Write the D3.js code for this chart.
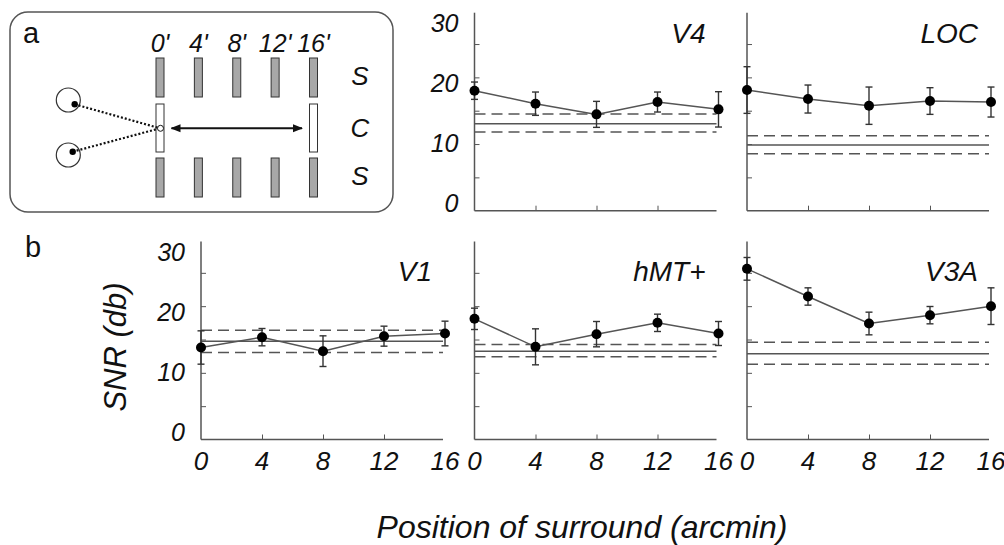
<!DOCTYPE html>
<html>
<head>
<meta charset="utf-8">
<script src="https://cdn.jsdelivr.net/npm/d3@7"></script>
<style>
  body { margin: 0; background: #fff; }
  svg { display: block; font-family: "Liberation Sans", Arial, sans-serif; }
  text { fill: #111; }
</style>
</head>
<body>
<svg id="chart" width="1004" height="545"></svg>
<script>
// x positions of the surround (arcmin)
const positions = [0, 4, 8, 12, 16];
const yTicks = [0, 10, 20, 30];
const regions = ["V4", "LOC", "V1", "hMT+", "V3A"];

// mean SNR per surround position
const snrV4 = [18.0, 16.05, 14.45, 16.3, 15.2];
const snrLOC = [18.1, 16.75, 15.75, 16.45, 16.3];
const snrV1 = [13.8, 15.35, 13.25, 15.5, 15.9];
const snrMT = [18.1, 13.9, 15.8, 17.5, 15.9];
const snrV3A = [25.6, 21.45, 17.4, 18.65, 20.0];

// error bar half-widths
const errV4 = [1.3, 1.75, 1.95, 1.5, 2.65];
const errLOC = [3.5, 2.1, 2.8, 2.0, 2.25];
const errV1 = [2.5, 1.3, 2.3, 1.5, 1.85];
const errMT = [1.6, 2.7, 1.9, 1.3, 1.8];
const errV3A = [1.7, 1.3, 1.7, 1.3, 2.75];

// center-only baseline: [mean, lower, upper]
const baseV4 = [13.05, 11.8, 14.5];
const baseLOC = [9.85, 8.55, 11.25];
const baseV1 = [14.75, 13.05, 16.4];
const baseMT = [13.25, 12.4, 14.25];
const baseV3A = [12.85, 11.3, 14.6];

const svg = d3.select("#chart");
const grey = "#555";

// layout: three columns, two rows
const colX = [201, 474.5, 747];
const rowY = [210.7, 439.5];
const panelW = 244, panelH = 200;

const panels = [
  { name: regions[0], col: 1, row: 0, snr: snrV4, err: errV4, base: baseV4 },
  { name: regions[1], col: 2, row: 0, snr: snrLOC, err: errLOC, base: baseLOC },
  { name: regions[2], col: 0, row: 1, snr: snrV1, err: errV1, base: baseV1 },
  { name: regions[3], col: 1, row: 1, snr: snrMT, err: errMT, base: baseMT },
  { name: regions[4], col: 2, row: 1, snr: snrV3A, err: errV3A, base: baseV3A }
];

panels.forEach(function(p) {
  var x = d3.scaleLinear().domain([0, 16]).range([colX[p.col], colX[p.col] + panelW]);
  var y = d3.scaleLinear().domain([0, 30]).range([rowY[p.row], rowY[p.row] - panelH]);
  var g = svg.append("g").attr("class", "panel");

  // y axis, ticks pointing inward
  var ya = g.append("g")
    .attr("transform", "translate(" + x(0) + ",0)")
    .call(d3.axisRight(y).tickValues(d3.range(5, 30, 5)).tickSize(5).tickSizeOuter(0).tickFormat(""));
  ya.select(".domain").attr("d", "M0," + y(0) + "V" + (y(30) + 2));
  ya.selectAll("line").attr("stroke", grey);
  ya.select(".domain").attr("stroke", grey).attr("stroke-width", 1.5);

  // x axis, ticks pointing up
  var xa = g.append("g")
    .attr("transform", "translate(0," + y(0) + ")")
    .call(d3.axisTop(x).tickValues(positions.slice(1, 4)).tickSize(5).tickSizeOuter(0).tickFormat(""));
  xa.select(".domain").attr("d", "M" + x(0) + ",0H" + (x(16) - 2));
  xa.selectAll("line").attr("stroke", grey);
  xa.select(".domain").attr("stroke", grey).attr("stroke-width", 1.5);

  // baseline lines
  g.append("line")
    .attr("x1", x(0)).attr("x2", x(16) - 2)
    .attr("y1", y(p.base[0])).attr("y2", y(p.base[0]))
    .attr("stroke", grey).attr("stroke-width", 1.5);
  g.selectAll(".dash")
    .data(p.base.slice(1))
    .join("line")
    .attr("class", "dash")
    .attr("x1", x(0)).attr("x2", x(16) - 2)
    .attr("y1", function(d) { return y(d); })
    .attr("y2", function(d) { return y(d); })
    .attr("stroke", grey).attr("stroke-width", 1.5)
    .attr("stroke-dasharray", "11,6");

  // data line
  var pts = positions.map(function(pos, i) { return [pos, p.snr[i], p.err[i]]; });
  g.append("path")
    .datum(pts)
    .attr("fill", "none")
    .attr("stroke", grey)
    .attr("stroke-width", 1.5)
    .attr("d", d3.line().x(function(d) { return x(d[0]); }).y(function(d) { return y(d[1]); }));

  // error bars
  var eb = g.selectAll(".err").data(pts).join("g").attr("class", "err")
    .attr("stroke", "#333").attr("stroke-width", 1.4);
  eb.append("line")
    .attr("x1", function(d) { return x(d[0]); }).attr("x2", function(d) { return x(d[0]); })
    .attr("y1", function(d) { return y(d[1] - d[2]); })
    .attr("y2", function(d) { return y(d[1] + d[2]); });
  [-1, 1].forEach(function(s) {
    eb.append("line")
      .attr("x1", function(d) { return x(d[0]) - 3.5; })
      .attr("x2", function(d) { return x(d[0]) + 3.5; })
      .attr("y1", function(d) { return y(d[1] + s * d[2]); })
      .attr("y2", function(d) { return y(d[1] + s * d[2]); });
  });

  g.selectAll(".dot").data(pts).join("circle")
    .attr("class", "dot")
    .attr("cx", function(d) { return x(d[0]); })
    .attr("cy", function(d) { return y(d[1]); })
    .attr("r", 5)
    .attr("fill", "#000");

  // region name
  g.append("text")
    .attr("x", x(16) - 13)
    .attr("y", p.row == 0 ? y(30) + 32 : y(30) + 41)
    .attr("text-anchor", "end")
    .attr("font-size", 28)
    .attr("font-style", "italic")
    .text(p.name);

  // y tick labels on first panel of each row
  if ((p.row == 0 && p.col == 1) || (p.row == 1 && p.col == 0)) {
    var ly = d3.scaleLinear().domain([0, 30]).range([y(0) - 8, y(30) + 12]);
    g.selectAll(".ylab").data(yTicks).join("text")
      .attr("class", "ylab")
      .attr("x", x(0) - 16)
      .attr("y", function(d) { return ly(d); })
      .attr("dy", "0.36em")
      .attr("text-anchor", "end")
      .attr("font-size", 25)
      .attr("font-style", "italic")
      .text(function(d) { return d; });
  }

  // x tick labels on bottom row
  if (p.row == 1) {
    g.selectAll(".xlab").data(positions).join("text")
      .attr("class", "xlab")
      .attr("x", function(d) { return x(d); })
      .attr("y", y(0) + 30)
      .attr("text-anchor", "middle")
      .attr("font-size", 26)
      .attr("font-style", "italic")
      .text(function(d) { return d; });
  }
});

// axis titles
svg.append("text")
  .attr("transform", "translate(126,347) rotate(-90)")
  .attr("text-anchor", "middle")
  .attr("font-size", 31)
  .attr("font-style", "italic")
  .text("SNR (db)");

svg.append("text")
  .attr("x", 582).attr("y", 538)
  .attr("text-anchor", "middle")
  .attr("font-size", 32)
  .attr("font-style", "italic")
  .text("Position of surround (arcmin)");

// panel letters
svg.append("text").attr("x", 23).attr("y", 43).attr("font-size", 29).text("a");
svg.append("text").attr("x", 25).attr("y", 257).attr("font-size", 29).text("b");

// ---- panel a: stimulus diagram ----
var dg = svg.append("g").attr("class", "diagram");
dg.append("rect")
  .attr("x", 10).attr("y", 12).attr("width", 383).attr("height", 200)
  .attr("rx", 18).attr("fill", "none")
  .attr("stroke", grey).attr("stroke-width", 1.5);

var dx = d3.scaleLinear().domain([0, 16]).range([160, 313.5]);

dg.selectAll(".plab").data(positions).join("text")
  .attr("x", function(d) { return dx(d); })
  .attr("y", 52)
  .attr("text-anchor", "middle")
  .attr("font-size", 25)
  .attr("font-style", "italic")
  .text(function(d) { return d + "'"; });

// surround bars above and below
[58, 158].forEach(function(top) {
  dg.selectAll(null).data(positions).join("rect")
    .attr("x", function(d) { return dx(d) - 4; })
    .attr("y", top)
    .attr("width", 8).attr("height", 39)
    .attr("fill", "#a8a8a8").attr("stroke", "#333").attr("stroke-width", 1);
});

// center bars at first and last position
dg.selectAll(null).data([positions[0], positions[4]]).join("rect")
  .attr("x", function(d) { return dx(d) - 4; })
  .attr("y", 104)
  .attr("width", 8).attr("height", 48)
  .attr("fill", "#fff").attr("stroke", "#333").attr("stroke-width", 1);

// S / C / S
dg.selectAll(null).data([["S", 85], ["C", 137], ["S", 185]]).join("text")
  .attr("x", 360).attr("y", function(d) { return d[1]; })
  .attr("text-anchor", "middle")
  .attr("font-size", 26)
  .attr("font-style", "italic")
  .text(function(d) { return d[0]; });

// eyes
var eyes = [[68.3, 100, 74.7, 104.3], [68.3, 155, 72.7, 151.7]];
eyes.forEach(function(e) {
  dg.append("circle").attr("cx", e[0]).attr("cy", e[1]).attr("r", 12)
    .attr("fill", "none").attr("stroke", "#333").attr("stroke-width", 1.2);
  dg.append("line")
    .attr("x1", e[2]).attr("y1", e[3]).attr("x2", dx(0)).attr("y2", 128.3)
    .attr("stroke", "#111").attr("stroke-width", 2.2).attr("stroke-dasharray", "2,2");
  dg.append("circle").attr("cx", e[2]).attr("cy", e[3]).attr("r", 3.2).attr("fill", "#000");
});
dg.append("circle").attr("cx", dx(0) + 0.5).attr("cy", 128.3).attr("r", 3)
  .attr("fill", "#fff").attr("stroke", "#111").attr("stroke-width", 1);

// double-headed arrow
var defs = svg.append("defs");
defs.append("marker")
  .attr("id", "ah").attr("viewBox", "0 0 10 10")
  .attr("refX", 9).attr("refY", 5)
  .attr("markerWidth", 5).attr("markerHeight", 5)
  .attr("orient", "auto-start-reverse")
  .append("path").attr("d", "M0,1L10,5L0,9z").attr("fill", "#111");
dg.append("line")
  .attr("x1", 171.5).attr("x2", 302).attr("y1", 128.3).attr("y2", 128.3)
  .attr("stroke", "#111").attr("stroke-width", 2)
  .attr("marker-start", "url(#ah)").attr("marker-end", "url(#ah)");
</script>
</body>
</html>
